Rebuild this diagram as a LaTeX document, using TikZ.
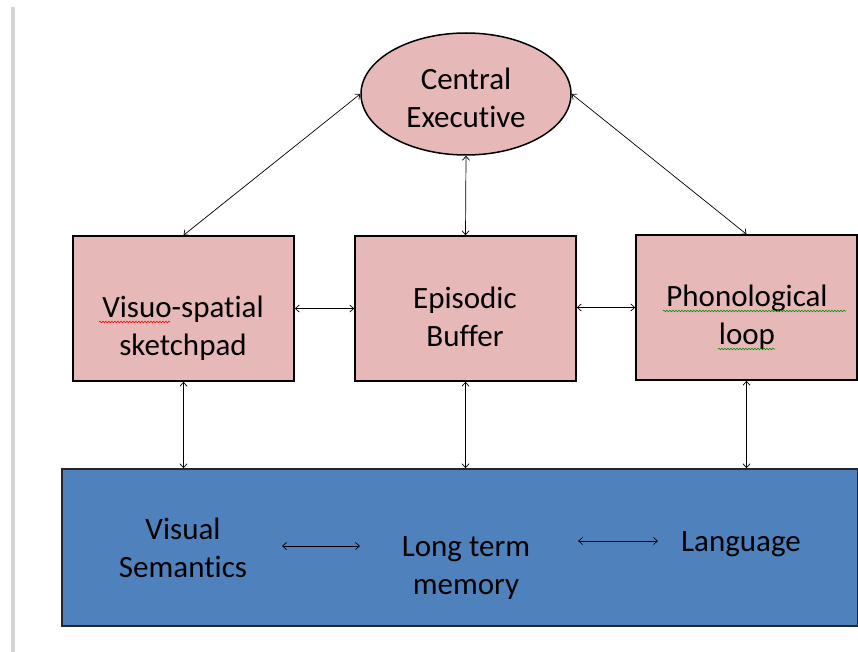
\documentclass[tikz,border=0pt]{standalone}
\usepackage{fontspec}
\setmainfont{Carlito}[Ligatures=NoCommon]
\usetikzlibrary{shapes.geometric,arrows.meta,decorations.pathmorphing}
\definecolor{boxpink}{HTML}{E6B9B8}
\definecolor{ltmblue}{HTML}{4F81BD}
\definecolor{sidegray}{HTML}{D4D4D4}
\tikzset{
  compbox/.style={draw=black,line width=1.5pt,fill=boxpink,minimum width=221pt,minimum height=145pt,inner sep=0pt},
  ltmbox/.style={draw=black!85,line width=1.5pt,fill=ltmblue,minimum width=796pt,minimum height=157pt,inner sep=0pt},
  label text/.style={font=\fontsize{31}{38}\selectfont,align=center,text=black,inner sep=1pt},
  link/.style={line width=0.7pt,{Straight Barb[length=4pt,width=7pt]}-{Straight Barb[length=4pt,width=7pt]}},
  spell/.style={line width=0.6pt,decorate,decoration={snake,amplitude=0.8pt,segment length=3pt}}
}
\begin{document}
\begin{tikzpicture}[x=1pt,y=-1pt]
\useasboundingbox (0,0) rectangle (858,652);
% margin rule on the left
\fill[sidegray] (10.5,7) rectangle (14.5,652);

% central executive
\node[ellipse,draw=black,line width=1.5pt,fill=boxpink,minimum width=210pt,minimum height=122pt,inner sep=0pt] (ce) at (466,94) {};
\node[label text] (cet) at (466,98) {Central\\Executive};

% three subsystems
\node[compbox] (vs) at (183.5,308.5) {};
\node[compbox] (eb) at (465.5,308.5) {};
\node[compbox] (pl) at (746.5,307.5) {};
\node[label text] (vst) at (183,328) {Visuo-spatial\\sketchpad};
\node[label text] (ebt) at (465,317) {Episodic\\Buffer};
\node[label text] (plt) at (747,317) {Phonological\\loop};

% long term memory
\node[ltmbox] (ltm) at (460,547.5) {};
\node[label text] (vsem) at (183,548) {Visual\\Semantics};
\node[label text] (ltmt) at (466,568) {Long term\\memory};
\node[label text] (lang) at (741,544) {Language};

% spell-check underlines
\draw[spell,red] (99,322) -- (170,322);
\draw[spell,green!55!black] (663,311) -- (846,311);
\draw[spell,green!55!black] (718,349) -- (775,349);

% connections to the central executive
\draw[link] (ce.west) -- (vs.north);
\draw[link] (ce.south) -- (eb.north);
\draw[link] (ce.east) -- (pl.north);

% horizontal links between subsystems
\draw[link] (vs.east) -- (eb.west);
\draw[link] (eb.east |- pl.west) -- (pl.west);

% links down to long term memory
\draw[link] (vs.south) -- (vs.south |- ltm.north);
\draw[link] (eb.south) -- (eb.south |- ltm.north);
\draw[link] (pl.south) -- (pl.south |- ltm.north);

% links inside long term memory
\coordinate (a1) at (282,546);
\coordinate (a2) at (360,546);
\coordinate (b1) at (578,541);
\coordinate (b2) at (658,541);
\draw[link] (a1) -- (a2);
\draw[link] (b1) -- (b2);
\end{tikzpicture}
\end{document}
